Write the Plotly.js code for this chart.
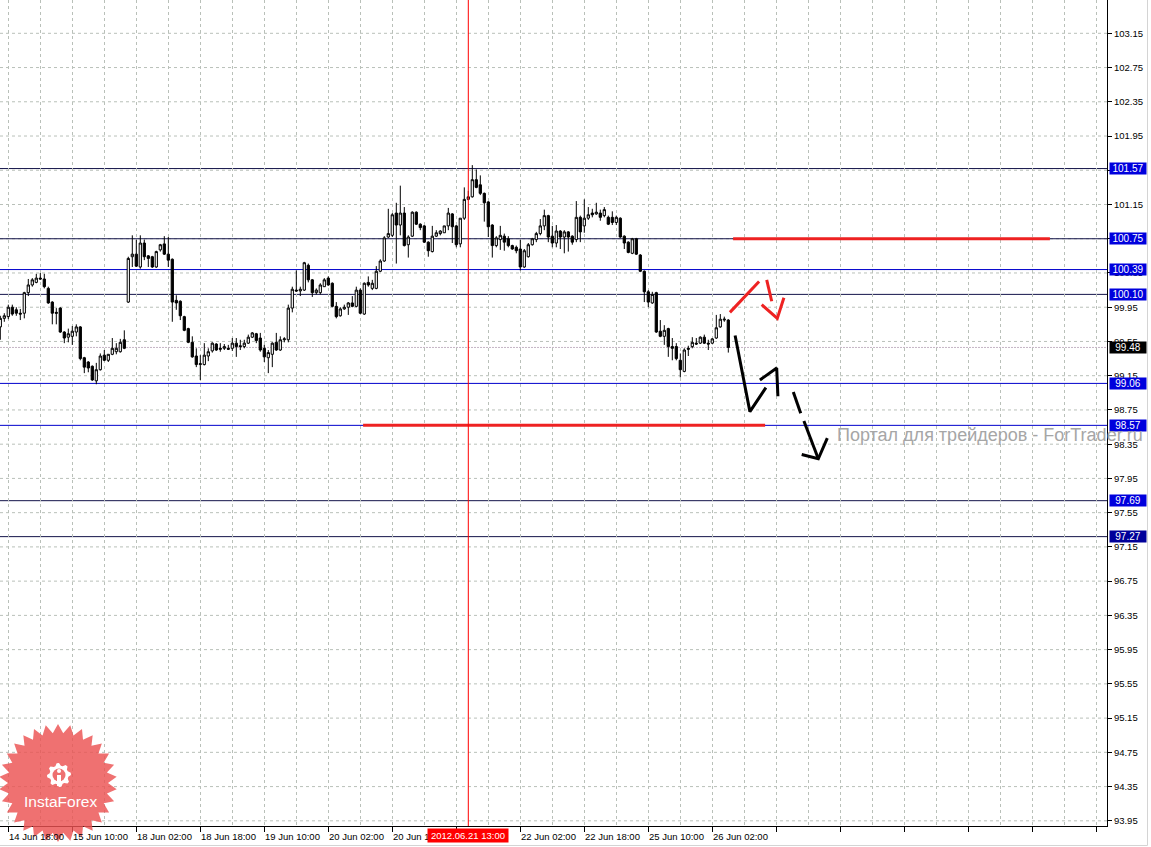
<!DOCTYPE html>
<html>
<head>
<meta charset="utf-8">
<script src="https://cdn.plot.ly/plotly-3.0.1.min.js"></script>
<style>html,body{margin:0;padding:0;background:#fff;}#chart{width:1151px;height:847px;}</style>
</head>
<body>
<div id="chart"></div>
<script>
// ---- candle data (H1 bars, left to right) ----
const opens = [
99.72,99.82,99.84,99.95,99.92,99.88,99.88,100.12,100.21,100.24,
100.29,100.28,100.17,100.01,99.89,99.94,99.66,99.60,99.61,99.66,
99.72,99.36,99.31,99.26,99.09,99.22,99.39,99.33,99.40,99.43,
99.43,99.57,100.01,100.54,100.57,100.42,100.70,100.55,100.54,100.42,
100.62,100.69,100.57,100.51,100.03,100.02,99.84,99.70,99.54,99.38,
99.28,99.28,99.38,99.44,99.52,99.47,99.47,99.47,99.47,99.53,
99.50,99.49,99.53,99.60,99.64,99.59,99.47,99.36,99.40,99.54,
99.45,99.57,99.57,99.94,100.15,100.14,100.15,100.44,100.27,100.12,
100.12,100.19,100.29,100.23,99.96,99.85,99.93,99.95,100.00,99.96,
100.15,99.87,100.24,100.17,100.17,100.37,100.49,100.77,100.79,101.05,
100.91,101.05,100.68,100.78,101.06,100.92,100.90,100.71,100.60,100.78,
100.81,100.82,100.90,101.04,100.90,100.69,100.99,101.21,101.24,101.44,
101.38,101.28,101.18,100.91,100.67,100.74,100.78,100.75,100.67,100.65,
100.63,100.42,100.54,100.68,100.74,100.81,100.90,101.02,100.78,100.70,
100.84,100.77,100.83,100.78,100.74,101.00,100.90,100.99,101.05,101.04,
101.05,101.02,101.00,101.00,100.94,100.99,100.78,100.71,100.58,100.75,
100.56,100.37,100.13,100.00,100.12,99.67,99.61,99.70,99.49,99.49,
99.33,99.20,99.47,99.49,99.53,99.53,99.60,99.53,99.53,99.59,
99.72,99.80,99.80];
const highs = [
99.85,99.88,99.98,99.98,99.95,99.93,100.13,100.28,100.29,100.34,
100.35,100.34,100.19,100.02,99.94,99.95,99.67,99.70,99.73,99.75,
99.73,99.37,99.32,99.27,99.30,99.41,99.45,99.40,99.59,99.53,
99.58,99.68,100.54,100.79,100.74,100.79,100.74,100.56,100.55,100.61,
100.69,100.78,100.77,100.52,100.09,100.03,99.85,99.71,99.61,99.47,
99.39,99.53,99.47,99.54,99.53,99.53,99.52,99.51,99.59,99.59,
99.57,99.57,99.63,99.66,99.65,99.65,99.51,99.45,99.54,99.65,
99.61,99.60,99.98,100.19,100.38,100.19,100.48,100.46,100.28,100.17,
100.23,100.29,100.31,100.24,100.01,99.95,99.98,100.01,100.08,100.19,
100.17,100.24,100.31,100.27,100.43,100.51,100.78,101.10,101.05,101.17,
101.37,101.12,100.79,101.07,101.07,100.93,100.91,100.72,100.90,100.85,
100.85,100.90,101.11,101.05,100.91,100.99,101.35,101.31,101.61,101.56,
101.49,101.29,101.19,100.92,100.78,100.90,100.81,100.78,100.68,100.67,
100.74,100.63,100.70,100.76,100.83,100.98,101.09,101.03,100.90,100.91,
100.85,100.85,100.84,100.79,101.19,101.02,101.21,101.12,101.10,101.17,
101.09,101.12,101.02,101.07,101.02,101.00,100.79,100.72,100.76,100.76,
100.57,100.38,100.15,100.13,100.13,99.80,99.74,99.71,99.59,99.53,
99.41,99.47,99.50,99.60,99.59,99.61,99.63,99.57,99.59,99.86,
99.87,99.84,99.81];
const lows = [
99.57,99.78,99.81,99.85,99.85,99.80,99.82,100.08,100.19,100.23,
100.27,100.17,99.99,99.75,99.75,99.65,99.53,99.54,99.51,99.61,
99.33,99.18,99.19,99.09,99.05,99.21,99.32,99.31,99.39,99.40,
99.42,99.46,100.00,100.42,100.42,100.40,100.50,100.42,100.41,100.41,
100.60,100.56,100.42,99.78,99.92,99.80,99.67,99.53,99.36,99.25,
99.10,99.27,99.32,99.42,99.44,99.43,99.45,99.45,99.44,99.37,
99.45,99.47,99.52,99.59,99.53,99.43,99.31,99.18,99.25,99.44,
99.44,99.54,99.54,99.89,100.13,100.08,100.14,100.24,100.07,100.10,
100.10,100.19,100.20,99.95,99.82,99.84,99.92,99.86,99.95,99.95,
99.87,99.86,100.19,100.15,100.16,100.36,100.48,100.76,100.77,100.46,
100.79,100.66,100.53,100.77,100.91,100.85,100.70,100.54,100.59,100.77,
100.79,100.82,100.85,100.70,100.65,100.65,100.97,101.20,101.23,101.34,
101.26,100.95,100.77,100.53,100.65,100.62,100.61,100.65,100.62,100.58,
100.38,100.41,100.53,100.67,100.71,100.79,100.85,100.71,100.65,100.65,
100.63,100.58,100.60,100.68,100.71,100.71,100.82,100.97,101.00,101.03,
100.96,101.00,100.91,100.91,100.91,100.76,100.63,100.58,100.57,100.56,
100.36,100.01,99.95,99.99,99.65,99.60,99.51,99.37,99.33,99.33,
99.13,99.19,99.38,99.47,99.51,99.52,99.52,99.45,99.52,99.58,
99.71,99.78,99.42];
const closes = [
99.82,99.85,99.95,99.87,99.88,99.87,100.12,100.21,100.27,100.29,
100.28,100.19,100.00,99.88,99.88,99.66,99.59,99.64,99.67,99.72,
99.35,99.25,99.24,99.10,99.22,99.38,99.33,99.40,99.47,99.47,
99.54,99.47,100.52,100.57,100.43,100.70,100.54,100.52,100.42,100.60,
100.68,100.57,100.50,100.01,100.00,99.85,99.68,99.54,99.37,99.28,
99.29,99.39,99.43,99.53,99.45,99.46,99.49,99.46,99.53,99.49,
99.49,99.53,99.60,99.65,99.56,99.45,99.37,99.42,99.53,99.45,
99.57,99.58,99.94,100.16,100.14,100.16,100.47,100.27,100.12,100.15,
100.21,100.27,100.21,99.96,99.84,99.93,99.95,100.00,99.96,100.15,
99.88,100.23,100.21,100.23,100.37,100.49,100.76,100.81,101.03,100.91,
101.05,100.67,100.77,101.06,100.92,100.88,100.71,100.61,100.78,100.82,
100.84,100.90,101.05,100.89,100.68,100.99,101.21,101.24,101.44,101.35,
101.28,101.17,100.89,100.67,100.76,100.79,100.71,100.67,100.63,100.61,
100.42,100.61,100.68,100.75,100.81,100.90,101.02,100.77,100.70,100.84,
100.77,100.83,100.77,100.71,101.00,100.83,100.99,101.03,101.03,101.06,
101.00,101.09,100.92,100.94,101.00,100.77,100.70,100.59,100.75,100.57,
100.37,100.13,100.01,100.10,99.66,99.61,99.68,99.49,99.47,99.35,
99.22,99.45,99.46,99.54,99.52,99.60,99.53,99.52,99.58,99.71,
99.81,99.81,99.48];

// ---- axis labels ----
const timeLabelBars = [2,18,34,50,66,82,98,130,146,162,178];
const timeLabels = ['14 Jun 18:00','15 Jun 10:00','18 Jun 02:00','18 Jun 18:00','19 Jun 10:00',
  '20 Jun 02:00','20 Jun 18:00','22 Jun 02:00','22 Jun 18:00','25 Jun 10:00','26 Jun 02:00'];
const cursorBar = 117;
const cursorLabel = '2012.06.21 13:00';
const priceTicks = [93.95,94.35,94.75,95.15,95.55,95.95,96.35,96.75,97.15,97.55,97.95,98.35,98.75,
  99.15,99.55,99.95,100.35,100.75,101.15,101.55,101.95,102.35,102.75,103.15,103.55];

// ---- horizontal levels ----
const levels      = [101.57,100.75,100.39,100.10,99.06,98.57,97.69,97.27];
const levelDark   = [true,true,false,true,false,false,true,true];
const bidPrice = 99.48;

// ---- drawn analysis objects (bar index, price) ----
const resistX = [183.2,262.4], resistY = [100.75,100.75];
const supportX = [90.7,191.2],  supportY = [98.57,98.57];
const redUpX = [182.4,189.7],        redUpY = [99.89,100.25];
const redDownX = [191.6,192.85],     redDownY = [100.27,100.02];
const redHeadX = [190.35,194.25,195.9], redHeadY = [99.98,99.82,100.06];
const blkZigX = [183.7,187.4,191.4], blkZigY = [99.62,98.73,99.01];
const blkUpX = [189.9,194.1,194.4],  blkUpY = [99.10,99.24,98.91];
const dash1X = [198.25,200.1],       dash1Y = [98.96,98.71];
const dash2X = [200.9,204.5],        dash2Y = [98.62,98.18];
const blkHeadX = [200.35,204.5,206.75], blkHeadY = [98.23,98.18,98.42];
const watermark = 'Портал для трейдеров - ForTrader.ru';

// ---------------------------------------------------------------
const bars = opens.map((_, i) => i);
const GRID = '#b9c0b9';
const FONT = 'Liberation Sans, Arial, sans-serif';

const traces = [{
  type: 'candlestick', x: bars, open: opens, high: highs, low: lows, close: closes,
  increasing: {line: {color: '#000000', width: 1}, fillcolor: '#ffffff'},
  decreasing: {line: {color: '#000000', width: 1}, fillcolor: '#000000'},
  whiskerwidth: 0, hoverinfo: 'skip'
}];
function seg(x, y, color, w) {
  traces.push({type: 'scatter', mode: 'lines', x: x, y: y, hoverinfo: 'skip',
    line: {color: color, width: w}});
}
seg(resistX, resistY, '#ee2222', 3);
seg(supportX, supportY, '#ee2222', 3);
seg(redUpX, redUpY, '#ee2222', 3);
seg(redDownX, redDownY, '#ee2222', 3);
seg(redHeadX, redHeadY, '#ee2222', 3);
seg(blkZigX, blkZigY, '#000000', 3);
seg(blkUpX, blkUpY, '#000000', 3);
seg(dash1X, dash1Y, '#000000', 3);
seg(dash2X, dash2Y, '#000000', 3);
seg(blkHeadX, blkHeadY, '#000000', 3);

const shapes = [];
const annotations = [];

// horizontal price grid (drawn as shapes so level lines can sit on top of it)
priceTicks.forEach(v => {
  shapes.push({type: 'line', xref: 'paper', x0: 0, x1: 1, yref: 'y', y0: v, y1: v,
    line: {color: GRID, width: 1, dash: '3px,3px'}, layer: 'below'});
});

levels.forEach((lv, i) => {
  shapes.push({type: 'line', xref: 'paper', x0: 0, x1: 1, yref: 'y', y0: lv, y1: lv,
    line: {color: levelDark[i] ? '#14144a' : '#0000cc', width: 1}, layer: 'below'});
  annotations.push({xref: 'paper', x: 1, xanchor: 'left', xshift: 2, yref: 'y', y: lv, yanchor: 'middle',
    text: lv.toFixed(2), showarrow: false, width: 36, height: 11, borderpad: 0,
    bgcolor: i === levels.length - 1 ? '#00009a' : '#0000dd',
    font: {family: FONT, size: 10, color: '#ffffff'}});
});
shapes.push({type: 'line', xref: 'paper', x0: 0, x1: 1, yref: 'y', y0: bidPrice, y1: bidPrice,
  line: {color: '#c4b4c4', width: 1, dash: '2px,1px'}, layer: 'below'});
annotations.push({xref: 'paper', x: 1, xanchor: 'left', xshift: 2, yref: 'y', y: bidPrice, yanchor: 'middle',
  text: bidPrice.toFixed(2), showarrow: false, width: 36, height: 11, borderpad: 0, bgcolor: '#000000',
  font: {family: FONT, size: 10, color: '#ffffff'}});

shapes.push({type: 'line', xref: 'x', x0: cursorBar, x1: cursorBar, yref: 'paper', y0: 0, y1: 1,
  line: {color: '#ff0000', width: 1}, layer: 'above'});

// window frame
shapes.push({type: 'line', xref: 'paper', yref: 'paper', x0: 1147.5 / 1107, x1: 1147.5 / 1107,
  y0: 1, y1: (826 - 845.5) / 826, line: {color: '#d4d4d4', width: 1}, layer: 'above'});
shapes.push({type: 'line', xref: 'paper', yref: 'paper', x0: 0, x1: 1147.5 / 1107,
  y0: (826 - 845.5) / 826, y1: (826 - 845.5) / 826, line: {color: '#d4d4d4', width: 1}, layer: 'above'});

timeLabelBars.forEach((b, i) => {
  annotations.push({xref: 'x', x: b, xanchor: 'left', xshift: -1, yref: 'paper', y: 0, yanchor: 'top', yshift: -3,
    text: timeLabels[i], showarrow: false, font: {family: FONT, size: 9.5, color: '#000000'}});
});
annotations.push({xref: 'x', x: cursorBar, xanchor: 'center', yref: 'paper', y: 0, yanchor: 'top', yshift: -2,
  text: cursorLabel, showarrow: false, bgcolor: '#ff0000', width: 80, height: 13, borderpad: 0,
  font: {family: FONT, size: 9.5, color: '#ffffff'}});

annotations.push({xref: 'paper', x: 835 / 1107, xanchor: 'left', yref: 'y', y: 98.46, yanchor: 'middle',
  text: watermark, showarrow: false, font: {family: FONT, size: 18, color: '#a6a6a6'}});

// ---- InstaForex badge (decoration) ----
const badgeX = 58 / 1107, badgeY = (826 - 783) / 826;
function polyPath(pts) { return 'M' + pts.map(p => p[0].toFixed(2) + ',' + p[1].toFixed(2)).join('L') + 'Z'; }
const star = [];
const NP = 30;
for (let i = 0; i < NP * 2; i++) {
  const a = Math.PI * i / NP - Math.PI / 2;
  const r = i % 2 === 0 ? 59 : 50;
  star.push([r * Math.cos(a), r * Math.sin(a)]);
}
shapes.push({type: 'path', xref: 'paper', yref: 'paper', xsizemode: 'pixel', ysizemode: 'pixel',
  xanchor: badgeX, yanchor: badgeY, path: polyPath(star), fillcolor: 'rgba(236,82,82,0.82)',
  line: {width: 0}, layer: 'above'});
const gear = [];
const NT = 8;
for (let i = 0; i < NT * 4; i++) {
  const a = 2 * Math.PI * i / (NT * 4);
  const r = (i % 4 < 2) ? 12 : 9.5;
  gear.push([1 + r * Math.cos(a), 8 + r * Math.sin(a)]);
}
shapes.push({type: 'path', xref: 'paper', yref: 'paper', xsizemode: 'pixel', ysizemode: 'pixel',
  xanchor: badgeX, yanchor: badgeY, path: polyPath(gear), fillcolor: '#ffffff', line: {width: 0}, layer: 'above'});
shapes.push({type: 'circle', xref: 'paper', yref: 'paper', xsizemode: 'pixel', ysizemode: 'pixel',
  xanchor: badgeX, yanchor: badgeY, x0: -5.5, x1: 7.5, y0: 1.5, y1: 14.5, fillcolor: '#ee7070',
  line: {width: 0}, layer: 'above'});
shapes.push({type: 'circle', xref: 'paper', yref: 'paper', xsizemode: 'pixel', ysizemode: 'pixel',
  xanchor: badgeX, yanchor: badgeY, x0: -1, x1: 3, y0: 10, y1: 14, fillcolor: '#ffffff',
  line: {width: 0}, layer: 'above'});
shapes.push({type: 'rect', xref: 'paper', yref: 'paper', xsizemode: 'pixel', ysizemode: 'pixel',
  xanchor: badgeX, yanchor: badgeY, x0: -1, x1: 3, y0: -3, y1: 8, fillcolor: '#ffffff',
  line: {width: 0}, layer: 'above'});
annotations.push({xref: 'paper', x: 60 / 1107, xanchor: 'center', yref: 'paper', y: (826 - 801) / 826,
  yanchor: 'middle', text: 'InstaForex', showarrow: false, font: {family: FONT, size: 15.5, color: '#ffffff'}});

const layout = {
  width: 1151, height: 847,
  margin: {l: 0, r: 44, t: 0, b: 21, pad: 0},
  paper_bgcolor: '#ffffff', plot_bgcolor: '#ffffff',
  showlegend: false, hovermode: false, boxgap: 0.2,
  font: {family: FONT, size: 9.5, color: '#000000'},
  xaxis: {
    range: [-0.075, 276.675], fixedrange: true, rangeslider: {visible: false},
    showline: true, linecolor: '#000000', linewidth: 1, zeroline: false,
    tickmode: 'linear', tick0: 2, dtick: 16, ticks: 'outside', ticklen: 5, tickcolor: '#000000',
    showticklabels: false,
    showgrid: true, gridcolor: GRID, gridwidth: 1, griddash: '3px,3px',
    minor: {tickmode: 'linear', tick0: 2, dtick: 8, showgrid: true, gridcolor: GRID, gridwidth: 1,
      griddash: '3px,3px', ticks: ''}
  },
  yaxis: {
    side: 'right', range: [93.8895, 103.539], fixedrange: true,
    showline: true, linecolor: '#000000', linewidth: 1, zeroline: false,
    tickmode: 'array', tickvals: priceTicks, ticktext: priceTicks.map(v => v.toFixed(2)),
    ticks: 'outside', ticklen: 4, tickcolor: '#000000',
    tickfont: {family: FONT, size: 9.5, color: '#000000'},
    showgrid: false
  },
  shapes: shapes, annotations: annotations
};

Plotly.newPlot('chart', traces, layout, {staticPlot: true, displayModeBar: false});
</script>
</body>
</html>
